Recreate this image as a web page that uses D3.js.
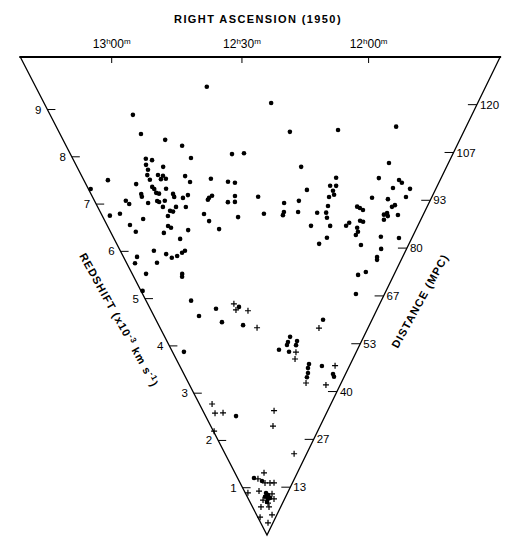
<!DOCTYPE html>
<meta charset="utf-8">
<style>
  body { margin: 0; background: #fff; }
  text { font-family: "Liberation Sans", Arial, sans-serif; fill: #000; }
  .title { font-size: 11px; font-weight: bold; letter-spacing: 1.4px; }
  .ra-label { font-size: 12px; }
  .tick-label { font-size: 11.5px; }
  .axis-title { font-size: 11px; font-weight: bold; letter-spacing: 1.1px; }
  .edge { fill: none; stroke: #000; stroke-width: 1.3; }
  .top { stroke: #000; stroke-width: 2; }
  .tick { stroke: #000; stroke-width: 1; }
  .cross { stroke: #000; stroke-width: 1.2; }
</style>
<svg width="515" height="545"></svg>
<script src="https://d3js.org/d3.v7.min.js"></script>
<script>

    // right ascension (h, m) of the survey edges and the labelled ticks
    var raEdges = [[11, 32], [13, 18.6]];
    var raTicks = [[13, 0], [12, 30], [12, 0]];

    // redshift ticks (km/s) and their labels on both edges
    var czTicks = [1000, 2000, 3000, 4000, 5000, 6000, 7000, 8000, 9000];
    var redshiftLabels = ["1", "2", "3", "4", "5", "6", "7", "8", "9"];
    var distanceLabels = ["13", "27", "40", "53", "67", "80", "93", "107", "120"];

    // galaxies: [RA h, RA m, cz km/s]
    var galaxies = [
        [12,39.3,8500],[12,59.4,8290],[12,58.9,7900],[12,52.9,7670],[12,48.6,7490],[12,46.8,7230],
        [12,34.5,7190],[12,30.9,7190],[12,59.7,7430],[12,58.1,7370],[13,0.2,7320],[12,55.5,7190],
        [13,0.1,7220],[13,0.8,7130],[12,57.7,7070],[12,56.3,7030],[12,57.2,6980],[12,55.7,6960],
        [12,49.7,6920],[13,12.3,7310],[13,0.5,7030],[13,4.9,7040],[12,48.6,6790],[12,41.9,6780],
        [12,36.6,6680],[12,34.4,6650],[12,27.0,6360],[13,0.5,6890],[13,0.1,6840],[12,56.5,6780],
        [13,4.5,6830],[13,4.6,6780],[12,59.9,6760],[12,59.1,6730],[12,54.8,6650],[12,54.7,6590],
        [12,52.0,6530],[12,50.2,6560],[13,0.4,6610],[12,59.9,6580],[13,3.4,6630],[12,58.0,6570],
        [13,9.8,6820],[13,9.2,6740],[13,18.0,7300],[12,44.0,6400],[12,43.5,6430],[12,42.4,6460],
        [12,37.4,6300],[12,35.0,6290],[12,34.8,6400],[12,59.2,6470],[12,55.0,6400],[12,57.3,6360],
        [12,58.5,6280],[12,56.4,6330],[12,51.8,6350],[13,16.4,6690],[13,13.2,6640],[13,6.8,6380],
        [12,46.2,6150],[12,44.9,6000],[12,34.4,6000],[13,11.7,6370],[13,10.8,6210],[12,59.5,6100],
        [12,58.7,6050],[13,1.7,6000],[12,53.0,5920],[12,41.8,5820],[12,56.7,5800],[13,7.4,5750],
        [13,3.5,5610],[13,1.9,5510],[12,59.7,5510],[12,57.5,5540],[12,56.2,5560],[13,14.1,5770],
        [13,15.8,5680],[13,8.0,5520],[13,13.7,5410],[13,0.0,5160],[13,0.4,5110],[13,18.0,5150],
        [12,59.9,4630],[12,49.4,4360],[12,58.5,4310],[12,47.9,4090],[12,37.0,3970],[12,38.0,4320],
        [13,12.8,3780],[12,11.6,3650],[12,10.7,3750],[12,6.4,3690],[12,6.6,3610],[12,12.0,3590],
        [12,10.3,3470],[12,16.6,3490],[11,56.4,3310],[11,56.4,3230],[11,55.6,3140],[11,55.6,3060],
        [11,48.0,3340],[11,39.4,3270],[11,38.1,3230],[11,54.8,4180],[11,43.5,4830],[11,45.4,5180],
        [11,42.8,5280],[12,53.2,2310],[12,49.7,1100],[12,34.6,1020],[12,26.7,790],[12,21.1,750],
        [12,30.0,720],[12,20.8,680],[12,14.7,700],[12,24.0,620],
        [12,22.9,8120],[12,17.5,7590],[12,4.1,7730],[11,48.9,8050],[11,47.7,7360],[12,13.4,6950],
        [12,2.1,6840],[11,49.2,7030],[11,43.2,7120],[11,42.1,7090],[11,39.1,7040],[11,44.1,6940],
        [12,10.8,6530],[12,3.5,6670],[12,1.6,6690],[12,3.2,6460],[12,1.7,6520],[12,2.3,6590],
        [12,18.1,6250],[12,13.1,6310],[12,3.0,6290],[11,49.4,6640],[11,44.4,6710],[11,39.3,6870],
        [11,41.6,6650],[11,42.3,6600],[11,53.3,6400],[11,52.3,6390],[11,51.1,6370],[12,25.1,6040],
        [12,18.3,6020],[12,18.0,6080],[12,13.0,6100],[12,6.3,6130],[12,3.2,6160],[12,2.6,6070],
        [11,43.1,6460],[11,43.9,6410],[11,42.5,6410],[11,43.3,6320],[11,39.5,6500],[12,7.8,5870],
        [12,0.9,5930],[11,55.3,6000],[11,54.5,6070],[11,51.0,6160],[11,49.9,6160],[11,51.3,6020],
        [11,50.6,5950],[11,51.0,5880],[12,3.7,5560],[12,1.2,5700],[11,48.1,5730],[11,42.2,6000],
        [11,36.1,6110],[11,40.5,5790],[11,40.8,5620],[11,40.4,5570]
    ];

    // second sample, drawn as crosses
    var crosses = [
        [12,40.3,4390],[12,39.7,4270],[12,33.7,4230],[12,29.5,3900],[11,55.8,4010],[12,6.0,3480],
        [12,5.9,3350],[11,55.2,2950],[11,40.2,3430],[11,41.1,3030],[12,17.5,2340],[12,17.7,2050],
        [11,47.1,1610],[13,9.5,2670],[13,10.2,2490],[13,3.6,2440],[13,18.0,2190],
        [12,29.5,1170],[12,42.3,1070],[12,28.4,980],[12,17.4,980],[12,8.7,990],[12,44.6,840],
        [13,12.7,870],[12,10.1,780],[12,2.0,690],[12,37.0,660],[12,20.4,600],[12,48.2,540],
        [12,15.8,530],[13,6.5,360],[11,55.9,390],[12,14.5,230]
    ];

    var svg = d3.select("svg");
    var apex = [267, 535], topY = 57;

    function hours(d) { return d[0] + d[1] / 60; }

    // wedge angle from vertical (degrees) and radial scale
    var angle = d3.scaleLinear().domain([12, 13]).range([12, -18]);
    var radius = d3.scaleLinear().domain([0, 10000]).range([0, 532]);

    function project(ra, cz) {
        var a = angle(ra) * Math.PI / 180, r = radius(cz);
        return [apex[0] + r * Math.sin(a), apex[1] - r * Math.cos(a)];
    }
    function topX(ra) {
        return apex[0] + (apex[1] - topY) * Math.tan(angle(ra) * Math.PI / 180);
    }

    var raLeft = hours(raEdges[1]), raRight = hours(raEdges[0]);

    // outline
    svg.append("path")
        .attr("class", "edge")
        .attr("d", d3.line()([[topX(raLeft), topY], apex, [topX(raRight), topY]]));
    svg.append("line")
        .attr("class", "top")
        .attr("x1", topX(raLeft) - 1).attr("x2", topX(raRight) + 1)
        .attr("y1", topY).attr("y2", topY);

    // RA ticks on the top edge
    var ra = svg.append("g").selectAll("g")
        .data(raTicks)
        .enter().append("g")
        .attr("transform", function(d) { return "translate(" + topX(hours(d)) + "," + topY + ")"; });
    ra.append("line").attr("class", "tick").attr("y1", 0).attr("y2", 6);
    var raText = ra.append("text")
        .attr("class", "ra-label")
        .attr("text-anchor", "middle")
        .attr("y", -9);
    raText.append("tspan").text(function(d) { return d[0]; });
    raText.append("tspan").attr("dy", -4).attr("font-size", 8).text("h");
    raText.append("tspan").attr("dy", 4).text(function(d) { return d3.format("02")(d[1]); });
    raText.append("tspan").attr("dy", -4).attr("font-size", 8).text("m");

    svg.append("text")
        .attr("class", "title")
        .attr("x", 258).attr("y", 23)
        .attr("text-anchor", "middle")
        .text("RIGHT ASCENSION (1950)");

    // redshift ticks, left edge
    var left = svg.append("g").selectAll("g")
        .data(czTicks)
        .enter().append("g")
        .attr("transform", function(d) { var p = project(raLeft, d); return "translate(" + p[0] + "," + p[1] + ")"; });
    left.append("line").attr("class", "tick").attr("x1", 0).attr("x2", 8);
    left.append("text")
        .attr("class", "tick-label")
        .attr("x", -6).attr("dy", "0.35em")
        .attr("text-anchor", "end")
        .text(function(d, i) { return redshiftLabels[i]; });

    // distance ticks, right edge
    var right = svg.append("g").selectAll("g")
        .data(czTicks)
        .enter().append("g")
        .attr("transform", function(d) { var p = project(raRight, d); return "translate(" + p[0] + "," + p[1] + ")"; });
    right.append("line").attr("class", "tick").attr("x1", -9).attr("x2", 0);
    right.append("text")
        .attr("class", "tick-label")
        .attr("x", 3).attr("dy", "0.35em")
        .text(function(d, i) { return distanceLabels[i]; });

    // axis titles
    var lt = svg.append("text")
        .attr("class", "axis-title")
        .attr("text-anchor", "middle")
        .attr("transform", "translate(119,320) rotate(61)")
        .attr("dy", "0.35em");
    lt.append("tspan").text("REDSHIFT (x10");
    lt.append("tspan").attr("dy", -4).attr("font-size", 8).text("-3");
    lt.append("tspan").attr("dy", 4).text(" km s");
    lt.append("tspan").attr("dy", -4).attr("font-size", 8).text("-1");
    lt.append("tspan").attr("dy", 4).text(")");

    svg.append("text")
        .attr("class", "axis-title")
        .attr("text-anchor", "middle")
        .attr("transform", "translate(420,301) rotate(-61)")
        .attr("dy", "0.35em")
        .text("DISTANCE (MPC)");

    // galaxies
    svg.append("g").selectAll("circle")
        .data(galaxies)
        .enter().append("circle")
        .attr("r", 2.3)
        .attr("cx", function(d) { return project(hours(d), d[2])[0]; })
        .attr("cy", function(d) { return project(hours(d), d[2])[1]; });

    svg.append("g").selectAll("path")
        .data(crosses)
        .enter().append("path")
        .attr("class", "cross")
        .attr("d", function(d) {
            var p = project(hours(d), d[2]);
            return "M" + (p[0] - 3) + "," + p[1] + "h6M" + p[0] + "," + (p[1] - 3) + "v6";
        });

</script>
